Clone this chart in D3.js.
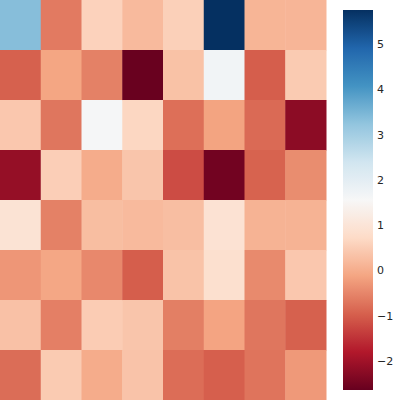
<!DOCTYPE html>
<html><head><meta charset="utf-8">
<script src="https://cdn.jsdelivr.net/npm/d3@7"></script>
<style>body{margin:0;background:#fff}svg{display:block}</style>
</head><body>
<svg id="chart" width="400" height="400"></svg>
<script>
const rows = [0,1,2,3,4,5,6,7];
const cols = [0,1,2,3,4,5,6,7];
const row0 = [3.35,-0.64,0.58,0.21,0.54,5.75,0.12,0.13];
const row1 = [-0.95,-0.11,-0.56,-2.62,0.32,1.69,-0.98,0.46];
const row2 = [0.41,-0.70,1.60,0.66,-0.78,-0.14,-0.84,-2.23];
const row3 = [-2.13,0.52,-0.01,0.37,-1.19,-2.52,-0.93,-0.42];
const row4 = [0.95,-0.56,0.26,0.21,0.27,0.92,0.09,0.09];
const row5 = [-0.30,-0.09,-0.47,-0.98,0.34,0.86,-0.45,0.41];
const row6 = [0.31,-0.58,0.49,0.38,-0.59,-0.13,-0.70,-0.95];
const row7 = [-0.81,0.46,-0.01,0.35,-0.80,-0.97,-0.72,-0.27];
const values = [row0,row1,row2,row3,row4,row5,row6,row7];
const vmin = -2.64, vmax = 5.75;
const cbTicks = [-2,-1,0,1,2,3,4,5];
const rdbu = ["#67001f","#b2182b","#d6604d","#f4a582","#fddbc7","#f7f7f7","#d1e5f0","#92c5de","#4393c3","#2166ac","#053061"];

const svg = d3.select("#chart");
const tScale = d3.scaleLinear().domain([vmin, vmax]).range([0,1]).clamp(true);
const cmap = d3.scaleLinear().domain(d3.range(11).map(i=>i/10)).range(rdbu).interpolate(d3.interpolateRgb);
const color = v => cmap(tScale(v));

const x = d3.scaleBand().domain(cols).range([0,326]);
const y = d3.scaleBand().domain(rows).range([0,400]);

const cells = [];
rows.forEach(r => cols.forEach(c => cells.push({r,c,v:values[r][c]})));
svg.append("g").selectAll("rect").data(cells).join("rect")
  .attr("x", d=>x(d.c)).attr("y", d=>y(d.r))
  .attr("width", x.bandwidth()+0.5).attr("height", y.bandwidth()+0.5)
  .attr("fill", d=>color(d.v));

// colorbar
const cbX = 343, cbW = 30, cbTop = 10, cbBot = 390;
const cbY = d3.scaleLinear().domain([vmin, vmax]).range([cbBot, cbTop]);
const defs = svg.append("defs");
const grad = defs.append("linearGradient").attr("id","cbg").attr("x1",0).attr("y1",1).attr("x2",0).attr("y2",0);
d3.range(0,1.0001,0.02).forEach(t => grad.append("stop").attr("offset", t).attr("stop-color", cmap(t)));
svg.append("rect").attr("x",cbX).attr("y",cbTop).attr("width",cbW).attr("height",cbBot-cbTop).attr("fill","url(#cbg)");
const axis = d3.axisRight(cbY).tickValues(cbTicks).tickSize(0).tickPadding(4).tickFormat(d => d<0 ? "\u2212"+Math.abs(d) : String(d));
const g = svg.append("g").attr("transform",`translate(${cbX+cbW},0)`).call(axis);
g.select(".domain").remove();
g.selectAll("text").attr("font-family","DejaVu Sans").attr("font-size","11px").attr("fill","#262626");
</script>
</body></html>
